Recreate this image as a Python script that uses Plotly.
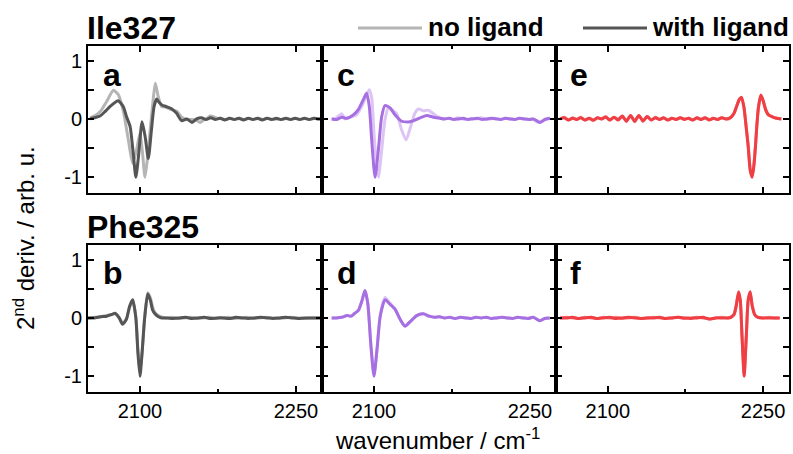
import plotly.graph_objects as go

# ---------------- data (wavenumber / cm^-1, 2nd derivative, normalised) ----------------
# Panel a: Ile327, grey
a_no_x = [2052, 2057, 2062, 2068, 2074.4, 2079, 2084, 2088.8, 2092.9, 2096.5, 2100, 2102.5, 2104.8, 2107.5,
          2110, 2112.2, 2114.7, 2117.6, 2120.8, 2125, 2130, 2135.3, 2140.1, 2145, 2150, 2154, 2157.7, 2161,
          2164.1, 2167.5, 2170.5, 2174, 2178, 2182.5, 2187, 2191.5, 2196, 2200.5, 2205, 2209.5, 2214, 2218.5,
          2223, 2227.5, 2232, 2236.5, 2241, 2245.5, 2250, 2254.5, 2259, 2263.5, 2268, 2273]
a_no_y = [0.02, 0.06, 0.13, 0.3, 0.49, 0.42, 0.13, -0.36, -0.76, -0.55, -0.24, -0.6, -1.0, -0.62,
          -0.15, 0.25, 0.61, 0.38, 0.21, 0.2, 0.16, 0.13, 0.03, -0.01, -0.01, -0.02, -0.06, -0.02,
          0.0, 0.05, 0.04, 0.01, 0.01, -0.01, 0.01, -0.01, 0.01, -0.01, 0.01, -0.01, 0.01, -0.01,
          0.01, -0.01, 0.0, -0.01, 0.01, -0.01, 0.01, -0.01, 0.01, -0.01, 0.01, 0.0]
a_with_x = [2052, 2056, 2061.5, 2066, 2071, 2075, 2079, 2084, 2087, 2090.5, 2093.5, 2096, 2098.5, 2102,
            2105, 2108, 2111, 2113.5, 2116, 2118.5, 2121, 2125.5, 2130, 2135, 2140, 2145, 2150, 2154.5,
            2159, 2163.5, 2168, 2172.5, 2177, 2181.5, 2186, 2190.5, 2195, 2199.5, 2204, 2208.5, 2213,
            2217.5, 2222, 2226.5, 2231, 2235.5, 2240, 2244.5, 2249, 2253.5, 2258, 2262.5, 2267, 2271.5, 2275]
a_with_y = [0.0, 0.02, 0.05, 0.12, 0.21, 0.27, 0.31, 0.21, 0.04, -0.13, -0.59, -1.0, -0.65, -0.05,
            -0.31, -0.68, -0.19, 0.21, 0.34, 0.28, 0.24, 0.21, 0.18, 0.1, -0.03, 0.0, -0.06, 0.0,
            0.02, -0.01, 0.02, -0.01, 0.01, -0.02, 0.01, -0.01, 0.01, -0.02, 0.01, -0.01, 0.01,
            -0.02, 0.01, -0.01, 0.01, -0.01, 0.01, -0.01, 0.01, -0.01, 0.01, -0.01, 0.01, 0.0, 0.0]

# Panel b: Phe325, grey
b_no_x = [2050, 2056, 2062, 2068, 2073, 2076.5, 2080, 2083.5, 2087, 2090, 2093, 2096, 2098, 2100,
          2102, 2104.5, 2107.5, 2110, 2113, 2116, 2120, 2125, 2131, 2137, 2143, 2149, 2155, 2161,
          2167, 2173, 2179, 2185, 2191, 2197, 2203, 2209, 2215, 2221, 2227, 2233, 2239, 2245, 2251,
          2257, 2263, 2269, 2275]
b_no_y = [0.0, 0.01, 0.02, 0.04, 0.06, 0.07, 0.0, -0.09, -0.01, 0.18, 0.29, 0.02, -0.55, -0.93,
          -0.6, 0.02, 0.43, 0.34, 0.14, 0.06, 0.02, 0.0, 0.01, -0.01, 0.0, 0.01, -0.01, 0.0,
          0.01, -0.01, 0.0, 0.01, -0.01, 0.0, 0.01, -0.01, 0.0, 0.01, 0.0, -0.01, 0.0, 0.01, 0.0,
          -0.01, 0.0, 0.0, 0.0]
b_with_x = [2050, 2056, 2062, 2068, 2073, 2076, 2080, 2083.3, 2087, 2090, 2093, 2096, 2098, 2100,
            2102, 2104.5, 2107.4, 2110, 2112, 2114.4, 2117, 2120.8, 2126, 2132, 2138, 2144, 2150,
            2156, 2162, 2168, 2174, 2180, 2186, 2192, 2198, 2204, 2210, 2216, 2222, 2228, 2234,
            2240, 2246, 2252, 2258, 2264, 2270, 2275]
b_with_y = [0.0, 0.0, 0.02, 0.03, 0.06, 0.08, 0.0, -0.11, -0.02, 0.2, 0.31, 0.0, -0.6, -1.0,
            -0.6, 0.0, 0.41, 0.3, 0.14, 0.07, 0.03, 0.0, 0.0, -0.01, 0.0, 0.01, -0.01, 0.0,
            0.01, -0.01, 0.0, 0.0, -0.01, 0.01, 0.0, -0.01, 0.0, 0.01, 0.0, -0.01, 0.0,
            0.01, 0.0, -0.01, 0.0, 0.0, 0.0, 0.0]

# Panel c: Ile327, purple
c_no_x = [2059.3, 2064, 2068.9, 2072, 2077, 2083.3, 2088.1, 2092.9, 2095.5, 2097.8, 2100.4, 2104.2,
          2107.4, 2110.6, 2113.8, 2118.6, 2121.8, 2126.6, 2130.8, 2135.3, 2139.4, 2142.6, 2147.4,
          2152.2, 2157.1, 2161.9, 2166.7, 2171.5, 2176, 2180.5, 2185, 2189.5, 2194, 2198.5, 2203,
          2207.5, 2212, 2216.5, 2221, 2225.5, 2230, 2234.5, 2239, 2243.5, 2248, 2252, 2255,
          2258, 2261.5, 2265, 2269.2]
c_no_y = [0.0, 0.02, 0.09, 0.0, 0.03, 0.07, 0.21, 0.41, 0.5, 0.36, -0.36, -1.0,
          -0.53, -0.01, 0.19, 0.14, 0.09, -0.19, -0.36, -0.13, 0.1, 0.17, 0.14,
          0.15, 0.09, 0.03, 0.0, 0.01, -0.01, 0.02, 0.0, -0.01, 0.01, 0.0, 0.02,
          -0.01, 0.0, 0.01, -0.01, 0.01, 0.0, -0.01, 0.01, 0.0, -0.01, 0.0, -0.03,
          -0.06, -0.04, 0.0, 0.01]
c_with_x = [2059.3, 2064.1, 2068.9, 2073.7, 2080.1, 2084.9, 2089.7, 2092.9, 2095.5, 2097.8, 2101,
            2104.2, 2107.4, 2110.6, 2115.4, 2120.2, 2126.6, 2134.6, 2141, 2146, 2150.7, 2157.1,
            2163.5, 2168, 2172.5, 2177, 2181.5, 2186, 2190.5, 2195, 2199.5, 2204, 2208.5, 2213,
            2217.5, 2222, 2226.5, 2231, 2235.5, 2240, 2244.5, 2249, 2253.2, 2256.5, 2259.6,
            2264.4, 2269.2]
c_with_y = [0.0, -0.01, 0.03, 0.01, 0.07, 0.16, 0.33, 0.44, 0.21, -0.36, -1.0,
            -0.53, 0.04, 0.23, 0.19, 0.07, -0.04, -0.05, -0.01, 0.03, 0.06, 0.03,
            0.01, 0.0, 0.01, -0.01, 0.0, 0.01, -0.01, 0.0, 0.01, -0.01, 0.0, 0.01,
            0.0, -0.01, 0.01, 0.0, -0.01, 0.01, 0.0, -0.01, 0.0, -0.03, -0.06,
            -0.01, 0.01]

# Panel d: Phe325, purple
d_no_x = [2059.3, 2064, 2069, 2074, 2078, 2081.5, 2085, 2088.5, 2091.3, 2094, 2097, 2100, 2103,
          2106, 2110.6, 2115, 2120.2, 2125, 2129.8, 2135, 2141, 2147.4, 2153, 2158, 2163, 2168,
          2173, 2178, 2183, 2188, 2193, 2198, 2203, 2208, 2213, 2218, 2223, 2228, 2233, 2238,
          2243, 2248, 2253, 2256.5, 2259.6, 2264, 2269]
d_no_y = [0.0, 0.0, 0.01, 0.04, 0.03, 0.08, 0.13, 0.3, 0.47, 0.25, -0.45, -0.98, -0.5,
          0.05, 0.35, 0.26, 0.15, -0.02, -0.14, -0.06, 0.04, 0.07, 0.03, 0.01, 0.02, 0.0,
          0.01, -0.01, 0.01, 0.0, -0.01, 0.01, 0.0, 0.01, -0.01, 0.0, 0.01, 0.0, -0.01, 0.01,
          0.0, -0.01, 0.01, -0.02, -0.05, -0.01, 0.0]
d_with_x = [2059.3, 2064, 2069, 2074, 2078, 2081.5, 2085, 2088.5, 2091.3, 2094, 2097, 2100, 2103,
            2106, 2110.6, 2115, 2120.2, 2125, 2129.8, 2135, 2141, 2147.4, 2153, 2158, 2163, 2168,
            2173, 2178, 2183, 2188, 2193, 2198, 2203, 2208, 2213, 2218, 2223, 2228, 2233, 2238,
            2243, 2248, 2253, 2256.5, 2259.6, 2264, 2269]
d_with_y = [0.0, 0.0, 0.01, 0.04, 0.03, 0.08, 0.13, 0.3, 0.47, 0.25, -0.47, -1.0, -0.52,
            0.03, 0.31, 0.24, 0.15, -0.02, -0.14, -0.06, 0.04, 0.07, 0.03, 0.01, 0.02, 0.0,
            0.01, -0.01, 0.01, 0.0, -0.01, 0.01, 0.0, 0.01, -0.01, 0.0, 0.01, 0.0, -0.01, 0.01,
            0.0, -0.01, 0.01, -0.02, -0.05, -0.01, 0.0]

# Panel e: Ile327, red
e_no_x = [2054, 2058, 2062, 2066, 2070, 2074, 2078, 2082, 2086, 2090, 2094, 2098, 2102, 2106, 2110,
          2114, 2118, 2122, 2126, 2130, 2134, 2138, 2142, 2146, 2150, 2154, 2158, 2162, 2166, 2170,
          2174, 2178, 2182, 2186, 2190, 2194, 2198, 2202, 2206, 2210, 2214, 2217, 2219.6, 2222,
          2224.4, 2227, 2229.2, 2231.5, 2233.5, 2235.6, 2237.5, 2239.4, 2241, 2242.6, 2244,
          2245.5, 2247.8, 2250, 2252.5, 2255, 2259.6, 2263, 2267.6]
e_no_y = [0.0, 0.03, -0.02, 0.02, -0.01, 0.03, -0.02, 0.01, -0.03, 0.02, 0.0, 0.04, -0.02, 0.03,
          -0.01, 0.05, -0.04, 0.06, -0.05, 0.06, -0.03, 0.04, -0.02, 0.03, -0.01, 0.02, -0.02,
          0.01, -0.01, 0.02, 0.0, 0.01, -0.02, 0.02, -0.01, 0.02, -0.01, 0.01, -0.01, 0.02, 0.0,
          0.0, 0.04, 0.1, 0.22, 0.34, 0.35, 0.2, -0.1, -0.45, -0.85, -0.98, -0.8, -0.45, -0.1,
          0.2, 0.4, 0.32, 0.17, 0.08, 0.03, 0.01, 0.0]
e_with_x = [2054, 2058, 2062, 2066, 2070, 2074, 2078, 2082, 2086, 2090, 2094, 2098, 2102, 2106, 2110,
            2114, 2118, 2122, 2126, 2130, 2134, 2138, 2142, 2146, 2150, 2154, 2158, 2162, 2166, 2170,
            2174, 2178, 2182, 2186, 2190, 2194, 2198, 2202, 2206, 2210, 2214, 2217, 2219.6, 2222,
            2224.4, 2227, 2229.2, 2231.5, 2233.5, 2235.6, 2237.5, 2239.4, 2241, 2242.6, 2244,
            2245.5, 2247.8, 2250, 2252.5, 2255, 2259.6, 2263, 2267.6]
e_with_y = [0.0, 0.02, -0.02, 0.01, -0.01, 0.02, -0.02, 0.01, -0.02, 0.02, 0.0, 0.03, -0.02, 0.03,
            -0.02, 0.05, -0.04, 0.06, -0.04, 0.06, -0.04, 0.04, -0.02, 0.02, -0.01, 0.02, -0.02,
            0.01, -0.01, 0.02, -0.01, 0.01, -0.02, 0.02, -0.01, 0.02, -0.02, 0.01, -0.01, 0.02, 0.0,
            0.01, 0.04, 0.1, 0.21, 0.33, 0.37, 0.2, -0.12, -0.48, -0.88, -1.0, -0.82, -0.48, -0.1,
            0.2, 0.41, 0.31, 0.15, 0.07, 0.03, 0.01, 0.0]

# Panel f: Phe325, red
f_no_x = [2054, 2060, 2066, 2072, 2078, 2084, 2090, 2096, 2102, 2108, 2114, 2120, 2126, 2132, 2138,
          2144, 2150, 2156, 2162, 2168, 2174, 2180, 2186, 2192, 2198, 2204, 2210, 2216, 2219, 2222,
          2224, 2226.3, 2228, 2229.6, 2231.7, 2233.8, 2235.5, 2237.5, 2239.5, 2242, 2245, 2250,
          2256, 2261, 2266]
f_no_y = [0.0, 0.01, 0.0, -0.01, 0.01, 0.0, -0.01, 0.01, 0.0, 0.01, -0.01, 0.0, 0.01, -0.01, 0.0,
          0.01, 0.0, -0.01, 0.0, 0.01, -0.01, 0.0, 0.01, 0.0, -0.02, 0.0, 0.01, 0.0, 0.02, 0.07,
          0.22, 0.43, 0.28, -0.3, -0.95, -0.3, 0.28, 0.43, 0.22, 0.06, 0.01, 0.0, 0.01, 0.0, 0.0]
f_with_x = [2054, 2060, 2066, 2072, 2078, 2084, 2090, 2096, 2102, 2108, 2114, 2120, 2126, 2132, 2138,
            2144, 2150, 2156, 2162, 2168, 2174, 2180, 2186, 2192, 2198, 2204, 2210, 2216, 2219, 2222,
            2224, 2226.3, 2228, 2229.6, 2231.7, 2233.8, 2235.5, 2237.5, 2239.5, 2242, 2245, 2250,
            2256, 2261, 2266]
f_with_y = [0.0, 0.0, 0.01, -0.01, 0.0, 0.01, -0.01, 0.0, 0.01, -0.01, 0.0, 0.01, 0.0, -0.01, 0.0,
            0.0, 0.01, -0.01, 0.0, 0.01, 0.0, -0.01, 0.0, 0.01, -0.02, 0.0, 0.0, 0.0, 0.01, 0.06,
            0.2, 0.45, 0.3, -0.3, -1.0, -0.3, 0.3, 0.45, 0.2, 0.05, 0.01, 0.0, 0.0, 0.0, 0.0]

panel_letters = ["a", "c", "e", "b", "d", "f"]
row_titles = ["Ile327", "Phe325"]
legend_labels = ["no ligand", "with ligand"]
x_tick_vals = [2100, 2250]
y_tick_vals = [-1, 0, 1]

# ---------------- styling ----------------
W, H = 793, 454
FONT = "Arial, Liberation Sans, sans-serif"
grey_light, grey_dark = "#b5b5b5", "#555555"
pur_light, pur_dark = "#dcc4f4", "#a66fe2"
red_light, red_dark = "#f58a8a", "#ef3f45"

panels = [
    (a_no_x, a_no_y, a_with_x, a_with_y, grey_light, grey_dark),
    (c_no_x, c_no_y, c_with_x, c_with_y, pur_light, pur_dark),
    (e_no_x, e_no_y, e_with_x, e_with_y, red_light, red_dark),
    (b_no_x, b_no_y, b_with_x, b_with_y, grey_light, grey_dark),
    (d_no_x, d_no_y, d_with_x, d_with_y, pur_light, pur_dark),
    (f_no_x, f_no_y, f_with_x, f_with_y, red_light, red_dark),
]

col_px = [(88, 322), (322, 556), (556, 789)]
row_px = [(46, 193), (245, 392)]


def px(x):
    return x / W


def py(y):
    return 1 - y / H


fig = go.Figure()
layout = dict(
    width=W, height=H, margin=dict(l=0, r=0, t=0, b=0),
    paper_bgcolor="white", plot_bgcolor="white", showlegend=False,
    font=dict(family=FONT, color="black"),
)

for i, (nx, ny, wx, wy, cl, cd) in enumerate(panels):
    r, c = divmod(i, 3)
    sfx = "" if i == 0 else str(i + 1)
    fig.add_trace(go.Scatter(x=nx, y=ny, mode="lines", line=dict(color=cl, width=3, shape="spline", smoothing=0.6),
                             xaxis="x" + sfx, yaxis="y" + sfx, name="no ligand", hoverinfo="skip"))
    fig.add_trace(go.Scatter(x=wx, y=wy, mode="lines", line=dict(color=cd, width=3, shape="spline", smoothing=0.6),
                             xaxis="x" + sfx, yaxis="y" + sfx, name="with ligand", hoverinfo="skip"))
    x0, x1 = col_px[c]
    y0, y1 = row_px[r]
    layout["xaxis" + sfx] = dict(
        domain=[px(x0), px(x1)], anchor="y" + sfx, range=[2050, 2275],
        showgrid=False, zeroline=False, showline=True, linecolor="black", linewidth=2, mirror="ticks",
        ticks="inside", ticklen=6, tickwidth=1.5, tickcolor="black",
        tickvals=x_tick_vals, ticktext=[str(v) for v in x_tick_vals],
        showticklabels=(r == 1), tickfont=dict(size=20, family=FONT),
        minor=dict(tickvals=[2175], ticks="inside", ticklen=3, tickwidth=1.5, tickcolor="black"),
    )
    layout["yaxis" + sfx] = dict(
        domain=[py(y1), py(y0)], anchor="x" + sfx, range=[-1.27, 1.25],
        showgrid=False, zeroline=False, showline=True, linecolor="black", linewidth=2, mirror="ticks",
        ticks="inside", ticklen=6, tickwidth=1.5, tickcolor="black",
        tickvals=y_tick_vals, ticktext=[str(v) for v in y_tick_vals],
        showticklabels=(c == 0), tickfont=dict(size=20, family=FONT),
        minor=dict(tickvals=[-0.5, 0.5], ticks="inside", ticklen=6, tickwidth=1.5, tickcolor="black"),
    )

fig.update_layout(**layout)

ann = []
# row titles
ann.append(dict(x=px(85), y=py(28), xref="paper", yref="paper", text="<b>%s</b>" % row_titles[0],
                showarrow=False, xanchor="left", yanchor="middle", font=dict(size=32, family=FONT)))
ann.append(dict(x=px(85), y=py(227), xref="paper", yref="paper", text="<b>%s</b>" % row_titles[1],
                showarrow=False, xanchor="left", yanchor="middle", font=dict(size=32, family=FONT)))
# panel letters
letter_pos = [(101, 75), (335, 75), (568, 75), (101, 273), (335, 273), (568, 273)]
for L, (lx, ly) in zip(panel_letters, letter_pos):
    ann.append(dict(x=px(lx), y=py(ly), xref="paper", yref="paper", text="<b>%s</b>" % L,
                    showarrow=False, xanchor="left", yanchor="middle", font=dict(size=32, family=FONT)))
# legend texts
ann.append(dict(x=px(426), y=py(27), xref="paper", yref="paper", text="<b>%s</b>" % legend_labels[0],
                showarrow=False, xanchor="left", yanchor="middle", font=dict(size=26, family=FONT)))
ann.append(dict(x=px(650), y=py(27), xref="paper", yref="paper", text="<b>%s</b>" % legend_labels[1],
                showarrow=False, xanchor="left", yanchor="middle", font=dict(size=26, family=FONT)))
# axis titles
ann.append(dict(x=px(437), y=py(439), xref="paper", yref="paper", text="wavenumber / cm<sup>-1</sup>",
                showarrow=False, xanchor="center", yanchor="middle", font=dict(size=24, family=FONT)))
ann.append(dict(x=px(24), y=py(238), xref="paper", yref="paper", text="2<sup>nd</sup> deriv. / arb. u.",
                showarrow=False, xanchor="center", yanchor="middle", textangle=-90, font=dict(size=24, family=FONT)))

shapes = [
    dict(type="line", xref="paper", yref="paper", x0=px(358), x1=px(422), y0=py(28), y1=py(28),
         line=dict(color=grey_light, width=3)),
    dict(type="line", xref="paper", yref="paper", x0=px(583), x1=px(647), y0=py(28), y1=py(28),
         line=dict(color=grey_dark, width=3)),
]
fig.update_layout(annotations=ann, shapes=shapes)

fig.write_html("out.html")
